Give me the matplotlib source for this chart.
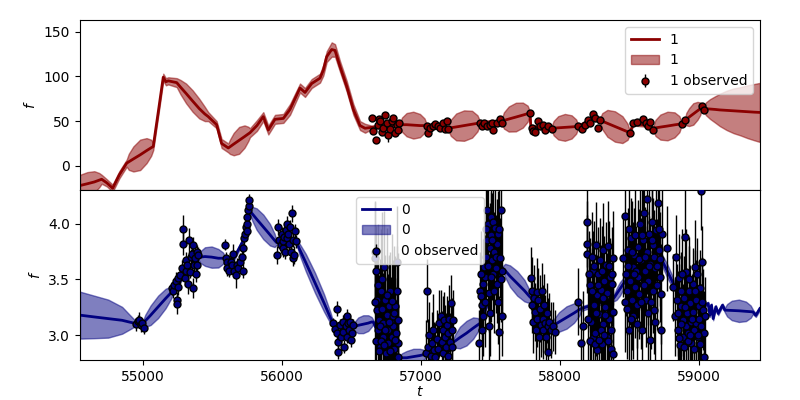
import numpy as np
import matplotlib
matplotlib.use("Agg")
import matplotlib.pyplot as plt

# ---- band 1 (top panel): fitted mean and half-width at knots ----
fit1_t = [54547, 54600, 54650, 54685, 54703, 54740, 54782, 54830, 54883,
          54898, 54931, 54980, 55026, 55059,
          55074, 55110, 55146, 55165, 55182,
          55243, 55270, 55310, 55357, 55405, 55445, 55470,
          55530, 55566, 55614,
          55626, 55653, 55692, 55731, 55758,
          55770, 55820, 55866, 55902, 55950, 56010, 56058, 56130, 56166, 56214,
          56274, 56298, 56322, 56358, 56382, 56418, 56466, 56514, 56562, 56598,
          56645, 56700, 56760, 56849,
          56864, 56897, 56945, 56993, 57026,
          57041, 57120, 57197,
          57215, 57254, 57311, 57368, 57407,
          57425, 57500, 57581,
          57597, 57632, 57683, 57733, 57768,
          57784, 57791, 57860, 57940,
          57955, 57988, 58036, 58084, 58117,
          58132, 58180, 58228, 58288,
          58305, 58342, 58396, 58450, 58487,
          58504, 58528, 58600, 58672,
          58688, 58723, 58774, 58825, 58860,
          58876, 58900,
          58910, 58930, 58960, 58990, 59010,
          59020, 59036,
          59050, 59080, 59120, 59150, 59200, 59250, 59300, 59350, 59400, 59439]
fit1_mean = [-22, -20, -18, -16, -15, -19, -25, -10, 3,
             4.5, 7.7, 12.3, 17, 20.2,
             21.6, 60, 99, 94, 95,
             93, 88, 81, 72.5, 64, 58, 55,
             46, 25, 20,
             21.3, 24.3, 28.5, 32.7, 35.7,
             37, 45, 55, 40, 52, 53, 63, 87, 82, 92,
             98, 107, 122, 130, 129, 111, 89, 63, 45, 42,
             43, 44, 45, 46,
             46, 46, 45.5, 45, 45,
             45, 44, 42,
             42.5, 43.5, 45, 46.5, 47.5,
             48, 49, 50,
             50.7, 52.3, 54.5, 56.7, 58.3,
             59, 44, 43, 42,
             42.1, 42.5, 43, 43.5, 43.9,
             44, 48, 53, 51,
             49.9, 47.5, 44, 40.5, 38.1,
             37, 47, 46, 42,
             42.4, 43.3, 44.5, 45.8, 46.6,
             47, 51,
             52.2, 54.5, 58, 61.5, 63.8,
             65, 64,
             63.8, 63.5, 63, 62.5, 62, 61.5, 61, 60.5, 60, 59.7]
fit1_err = [12, 13, 12, 8, 5, 4, 4, 4, 4,
            9, 14, 17, 14, 9,
            4, 4, 4, 4, 4,
            5, 8, 11, 12, 11, 8, 5,
            4, 5, 5,
            8, 12.5, 15, 12.5, 8,
            5, 6, 5, 5, 5, 5, 6, 5, 5, 5,
            5, 6, 6, 8, 7, 6, 6, 6, 5, 5,
            2, 2, 2, 2,
            8, 13, 15, 13, 8,
            2, 2, 2,
            9, 15, 17, 15, 9,
            2, 2, 2,
            9, 14, 16, 14, 9,
            2, 2, 2, 2,
            8, 13, 15, 13, 8,
            2, 2, 2, 2,
            9, 15, 17, 15, 9,
            2, 2, 2, 2,
            9, 14, 16, 14, 9,
            2, 2,
            7, 10, 12, 10, 7,
            2, 2,
            7, 11, 15, 18, 22, 25, 27, 29.5, 31.5, 33]

# ---- band 1 observations ----
obs1_t = [56645, 56657, 56674, 56693, 56700, 56705, 56720, 56729, 56741, 56753,
          56765, 56780, 56789, 56800, 56813, 56825, 56835, 56844,
          57041, 57053, 57065, 57089, 57101, 57125, 57137, 57161, 57173, 57185, 57197,
          57425, 57437, 57454, 57473, 57497, 57509, 57521, 57545, 57569, 57581,
          57784, 57796, 57808, 57820, 57844, 57856, 57880, 57892, 57916, 57940,
          58132, 58156, 58180, 58204, 58216, 58235, 58252, 58276, 58288,
          58504, 58528, 58557, 58595, 58619, 58635, 58652, 58667,
          58876, 58900, 59020, 59036]
obs1_f = [53.4, 38.4, 29.0, 46.0, 52.0, 49.6, 38.0, 42.0, 57.0, 47.8,
          34.7, 41.0, 49.6, 53.0, 36.6, 46.0, 40.0, 47.8,
          44.8, 36.6, 42.0, 44.8, 46.7, 44.0, 42.0, 47.8, 41.0, 50.0, 41.4,
          47.8, 44.0, 47.8, 44.0, 46.0, 47.8, 40.0, 47.8, 52.0, 47.8,
          59.0, 42.0, 38.4, 37.7, 50.0, 44.0, 46.0, 39.6, 44.0, 41.4,
          44.0, 41.0, 46.0, 51.5, 47.8, 58.0, 53.4, 42.0, 50.7,
          36.6, 47.8, 48.5, 52.0, 47.8, 44.0, 49.0, 40.0,
          46.7, 51.5, 66.4, 62.7]
obs1_err = [3, 3, 3, 2, 3, 2, 3, 2, 3, 2,
            8, 3, 2, 3, 3, 2, 3, 2,
            2, 3, 2, 2, 3, 2, 2, 3, 2, 3, 2,
            2, 3, 2, 2, 3, 2, 3, 2, 3, 2,
            3, 2, 3, 2, 3, 2, 2, 3, 2, 2,
            2, 3, 2, 3, 2, 3, 2, 3, 2,
            3, 2, 3, 2, 3, 2, 3, 2,
            2, 3, 3, 2]

# ---- band 0 (bottom panel): fitted mean and half-width at knots ----
fit0_t = [54547, 54650, 54750, 54850, 54900, 54935, 54955,
          55000,
          55017, 55055, 55109, 55163, 55201,
          55218, 55300, 55398,
          55413, 55446, 55494, 55542, 55575,
          55590, 55650, 55722, 55770,
          55785, 55818, 55866, 55914, 55947,
          55962, 56030, 56106,
          56127, 56172, 56238, 56303, 56348,
          56369, 56440, 56513,
          56525, 56549, 56585, 56621, 56645,
          56657, 56700, 56760, 56849,
          56864, 56897, 56945, 56993, 57026,
          57041, 57130, 57232,
          57247, 57280, 57328, 57376, 57410,
          57425, 57500, 57590,
          57606, 57641, 57693, 57745, 57780,
          57796, 57870, 57940,
          57957, 57994, 58048, 58102, 58139,
          58156, 58280, 58384,
          58392, 58408, 58432, 58456, 58472,
          58480, 58600, 58707,
          58718, 58740, 58773, 58806, 58828,
          58839, 58940, 59043,
          59067, 59079, 59091, 59103, 59122, 59139, 59151, 59170,
          59187,
          59203, 59237, 59288, 59339, 59373,
          59389, 59410, 59439]
fit0_mean = [3.181, 3.165, 3.15, 3.135, 3.12, 3.11, 3.107,
             3.11,
             3.13, 3.18, 3.255, 3.33, 3.38,
             3.40, 3.55, 3.70,
             3.70, 3.705, 3.70, 3.69, 3.69,
             3.69, 3.68, 3.85, 4.11,
             4.09, 4.04, 3.97, 3.90, 3.85,
             3.83, 3.85, 3.83,
             3.77, 3.65, 3.47, 3.29, 3.16,
             3.105, 3.09, 3.08,
             3.08, 3.09, 3.10, 3.11, 3.12,
             3.12, 3.00, 2.90, 2.80,
             2.80, 2.80, 2.81, 2.82, 2.83,
             2.83, 2.88, 2.94,
             2.95, 2.98, 3.02, 3.065, 3.095,
             3.107, 3.35, 3.60,
             3.58, 3.53, 3.465, 3.40, 3.35,
             3.33, 3.20, 3.08,
             3.09, 3.12, 3.16, 3.20, 3.23,
             3.24, 3.29, 3.33,
             3.34, 3.37, 3.415, 3.46, 3.485,
             3.50, 3.62, 3.75,
             3.72, 3.66, 3.575, 3.49, 3.43,
             3.40, 3.33, 3.27,
             3.285, 3.18, 3.27, 3.15, 3.255, 3.196, 3.226, 3.27,
             3.226,
             3.225, 3.223, 3.22, 3.215, 3.212,
             3.21, 3.18, 3.24]
fit0_err = [0.21, 0.19, 0.17, 0.12, 0.07, 0.035, 0.02,
            0.02,
            0.055, 0.087, 0.10, 0.087, 0.055,
            0.02, 0.02, 0.02,
            0.052, 0.083, 0.095, 0.083, 0.052,
            0.02, 0.02, 0.02, 0.02,
            0.06, 0.096, 0.11, 0.096, 0.06,
            0.02, 0.02, 0.02,
            0.05, 0.078, 0.09, 0.078, 0.05,
            0.02, 0.02, 0.02,
            0.044, 0.07, 0.08, 0.07, 0.044,
            0.02, 0.02, 0.02, 0.02,
            0.04, 0.06, 0.07, 0.06, 0.04,
            0.02, 0.02, 0.02,
            0.06, 0.096, 0.11, 0.096, 0.06,
            0.02, 0.02, 0.02,
            0.06, 0.096, 0.11, 0.096, 0.06,
            0.02, 0.02, 0.02,
            0.055, 0.087, 0.10, 0.087, 0.055,
            0.02, 0.02, 0.02,
            0.033, 0.052, 0.06, 0.052, 0.033,
            0.02, 0.02, 0.02,
            0.033, 0.052, 0.06, 0.052, 0.033,
            0.02, 0.02, 0.015,
            0.015, 0.015, 0.015, 0.015, 0.015, 0.015, 0.015, 0.015,
            0.02,
            0.055, 0.087, 0.10, 0.087, 0.055,
            0.02, 0.015, 0.015]

# ---- band 0 observations (one block per group of visits) ----
obs0_t = [
    54950, 54963, 54975, 54985, 54995, 55008,
    55206, 55218, 55226, 55238, 55243, 55247, 55250, 55254, 55266, 55278,
    55286, 55290, 55302, 55310, 55312, 55319, 55326, 55334, 55338, 55343,
    55350, 55358, 55362, 55367, 55374, 55382, 55386, 55391, 55398,
    55590, 55595, 55602, 55607, 55621, 55631, 55638, 55650, 55657, 55669,
    55674, 55686, 55698, 55710, 55717, 55722, 55729, 55734, 55739, 55746,
    55746, 55751, 55756, 55760, 55765,
    55967, 55974, 55981, 55991, 55998, 56005, 56010, 56017, 56022, 56029,
    56034, 56039, 56046, 56053, 56058, 56062, 56070, 56077, 56082, 56089,
    56094, 56101,
    56365, 56381, 56393, 56398, 56402, 56405, 56417, 56425, 56437, 56441,
    56449, 56458, 56465, 56470, 56477, 56485, 56489, 56497, 56501, 56509,
    56669, 56672, 56676, 56681, 56686, 56693, 56700, 56705, 56710, 56717,
    56724, 56729, 56736, 56741, 56748, 56753, 56760, 56765, 56772, 56777,
    56784, 56789, 56796, 56801, 56808, 56813, 56820, 56825, 56828, 56832,
    56837,
    56667, 56679, 56690, 56697, 56708, 56714, 56721, 56733,
    56745, 56757, 56769, 56781, 56793, 56805, 56817, 56834,
    57036, 57041, 57053, 57060, 57070, 57077, 57089, 57094, 57101, 57113,
    57125, 57132, 57142, 57149, 57156, 57161, 57168, 57173, 57180, 57185,
    57192, 57197, 57204, 57209, 57216, 57221, 57226, 57228,
    57420, 57425, 57429, 57437, 57444, 57449, 57453, 57461, 57468, 57473,
    57477, 57485, 57489, 57492, 57497, 57501, 57506, 57511, 57516, 57521,
    57525, 57533, 57540, 57545, 57549, 57557, 57561, 57569, 57573, 57581,
    57584,
    57432, 57441, 57458, 57465, 57480, 57495, 57503,
    57514, 57528, 57537, 57553, 57565, 57577,
    57789, 57796, 57803, 57808, 57813, 57820, 57827, 57832, 57837, 57844,
    57851, 57856, 57863, 57868, 57875, 57880, 57887, 57892, 57899, 57904,
    57911, 57916, 57923, 57933, 57947, 57964,
    58132, 58151, 58168, 58192, 58192, 58197, 58216, 58223, 58228, 58235,
    58240, 58245, 58252, 58259, 58264, 58269, 58276, 58283, 58288, 58293,
    58300, 58307, 58312, 58317, 58324, 58331, 58336, 58341, 58348, 58355,
    58360, 58365, 58372, 58379, 58384, 58384,
    58205, 58212, 58219, 58231, 58248, 58256, 58262, 58272, 58280,
    58296, 58303, 58310, 58321, 58328, 58345, 58352, 58369, 58376,
    58456, 58468, 58475, 58480, 58485, 58492, 58499, 58504, 58509, 58516,
    58523, 58528, 58535, 58540, 58547, 58552, 58559, 58564, 58571, 58576,
    58581, 58588, 58595, 58600, 58605, 58612, 58619, 58624, 58628, 58636,
    58643, 58648, 58652, 58660, 58667, 58672, 58676, 58684, 58691, 58696,
    58708, 58715, 58720, 58727, 58727, 58732, 58768,
    58470, 58488, 58495, 58512, 58519, 58532, 58544, 58556, 58568, 58585, 58592,
    58608, 58616, 58632, 58640, 58656, 58664, 58680, 58688, 58700, 58712, 58724,
    58811, 58827, 58839, 58844, 58851, 58859, 58863, 58868, 58875, 58883,
    58887, 58895, 58899, 58907, 58911, 58916, 58923, 58931, 58935, 58943,
    58947, 58955, 58959, 58967, 58971, 58979, 58983, 58988, 58995, 59003,
    59007, 59015, 59019, 59026, 59031, 59036, 59039, 59043,
    58848, 58856, 58871, 58880, 58891, 58903, 58919, 58927,
    58939, 58951, 58963, 58975, 58991, 58999, 59011, 59023,
]
obs0_f = [
    3.10, 3.13, 3.14, 3.09, 3.11, 3.07,
    3.42, 3.40, 3.45, 3.49, 3.32, 3.28, 3.51, 3.43, 3.54, 3.60,
    3.95, 3.82, 3.51, 3.58, 3.67, 3.63, 3.46, 3.85, 3.57, 3.70,
    3.73, 3.42, 3.81, 3.63, 3.69, 3.55, 3.75, 3.63, 3.72,
    3.81, 3.69, 3.66, 3.60, 3.58, 3.66, 3.63, 3.73, 3.58, 3.54,
    3.63, 3.60, 3.66, 3.70, 3.58, 3.78, 3.87, 3.91, 3.97, 4.00,
    3.93, 4.06, 4.12, 4.16, 4.21,
    3.72, 3.97, 3.85, 3.81, 3.91, 3.78, 3.84, 3.88, 3.75, 3.94,
    4.00, 3.87, 3.91, 3.82, 3.97, 3.75, 4.09, 3.69, 3.85, 3.72,
    3.93, 3.84,
    3.11, 3.06, 3.02, 3.24, 2.85, 2.94, 3.09, 2.99, 3.12, 3.03,
    2.90, 3.08, 3.17, 2.99, 3.11, 3.05, 3.12, 2.96, 3.02, 3.09,
    3.75, 3.69, 3.58, 3.32, 3.23, 3.05, 3.14, 2.90, 3.40, 3.24,
    2.99, 3.11, 3.61, 3.32, 2.84, 3.18, 3.05, 2.93, 3.26, 3.40,
    3.12, 2.99, 3.17, 3.08, 2.88, 3.26, 3.02, 3.40, 3.66, 2.93,
    2.81,
    3.30, 2.95, 3.45, 2.86, 3.08, 2.95, 3.50, 2.91,
    3.05, 3.36, 3.12, 2.86, 3.31, 3.20, 2.96, 3.14,
    2.84, 3.40, 2.90, 3.00, 2.82, 2.93, 3.05, 2.87, 2.81, 2.97,
    2.88, 3.11, 3.17, 2.94, 2.84, 3.05, 3.14, 2.99, 2.90, 3.09,
    2.82, 3.02, 3.15, 2.94, 3.29, 3.05, 2.90, 3.14,
    2.93, 3.40, 3.35, 3.27, 3.17, 3.46, 3.61, 3.52, 3.70, 3.85,
    4.12, 4.00, 3.38, 3.08, 3.78, 3.90, 4.06, 3.67, 4.01, 3.55,
    3.75, 3.96, 3.70, 3.46, 3.82, 3.91, 3.03, 3.69, 4.12, 3.17,
    3.58,
    3.55, 3.05, 3.30, 3.95, 3.62, 3.20, 3.52,
    3.85, 3.40, 3.60, 3.30, 3.95, 3.50,
    3.51, 3.40, 3.27, 3.12, 3.33, 3.21, 3.05, 3.39, 3.15, 3.32,
    2.99, 3.24, 3.09, 3.40, 3.15, 3.05, 3.27, 3.11, 2.99, 3.20,
    3.08, 2.85, 3.12, 3.05, 3.08, 3.03,
    3.30, 2.93, 3.08, 4.01, 3.82, 3.73, 3.45, 3.12, 3.70, 2.98,
    3.58, 3.27, 3.02, 3.81, 3.36, 2.87, 3.55, 3.19, 3.67, 3.41,
    2.92, 3.76, 3.10, 3.49, 3.25, 3.63, 2.99, 3.38, 3.80, 3.15,
    3.52, 2.88, 3.46, 3.21, 3.69, 2.83,
    3.15, 3.55, 2.95, 3.40, 3.62, 2.92, 3.20, 3.45, 2.96,
    3.05, 3.58, 3.33, 3.00, 3.18, 2.95, 3.62, 3.05, 3.55,
    3.69, 4.07, 3.55, 3.40, 3.24, 3.76, 3.05, 3.49, 3.87, 3.32,
    3.61, 3.17, 3.72, 3.43, 3.58, 3.27, 3.79, 3.52, 3.37, 4.00,
    3.67, 3.05, 3.46, 3.85, 4.09, 3.58, 3.32, 4.22, 3.75, 3.49,
    3.91, 2.96, 3.64, 4.01, 3.40, 3.81, 3.23, 3.60, 3.94, 3.45,
    4.18, 3.76, 3.52, 3.37, 3.05, 3.91, 3.78,
    3.30, 3.62, 3.95, 3.15, 3.75, 3.55, 3.90, 3.10, 3.68, 3.30, 3.90,
    3.45, 3.70, 3.20, 3.62, 3.30, 3.85, 3.70, 3.12, 3.62, 3.95, 3.68,
    3.43, 3.17, 3.70, 3.32, 3.05, 3.51, 2.91, 3.26, 3.40, 3.14,
    2.99, 3.33, 3.88, 3.08, 3.57, 3.20, 3.02, 3.40, 3.29, 3.12,
    2.93, 3.46, 3.21, 3.05, 3.61, 3.32, 3.11, 3.55, 2.99, 3.26,
    3.42, 3.08, 4.29, 3.66, 3.23, 3.02, 2.81, 3.17,
    3.20, 2.98, 3.10, 3.55, 2.90, 3.25, 2.95, 3.50,
    3.00, 3.15, 2.88, 3.40, 3.00, 3.15, 2.92, 3.30,
]
obs0_err = [
    0.06, 0.05, 0.07, 0.06, 0.05, 0.06,
    0.06, 0.07, 0.05, 0.08, 0.07, 0.09, 0.06, 0.07, 0.08, 0.07,
    0.13, 0.10, 0.07, 0.06, 0.08, 0.07, 0.09, 0.11, 0.06, 0.07,
    0.08, 0.09, 0.07, 0.06, 0.08, 0.07, 0.06, 0.08, 0.07,
    0.05, 0.06, 0.05, 0.07, 0.06, 0.08, 0.06, 0.09, 0.07, 0.12,
    0.06, 0.07, 0.08, 0.06, 0.07, 0.05, 0.06, 0.05, 0.05, 0.06,
    0.05, 0.05, 0.06, 0.05, 0.05,
    0.08, 0.07, 0.06, 0.07, 0.06, 0.08, 0.05, 0.06, 0.07, 0.06,
    0.07, 0.06, 0.05, 0.07, 0.06, 0.08, 0.08, 0.07, 0.06, 0.08,
    0.07, 0.06,
    0.05, 0.06, 0.05, 0.07, 0.06, 0.07, 0.06, 0.05, 0.06, 0.07,
    0.06, 0.05, 0.07, 0.06, 0.05, 0.06, 0.05, 0.06, 0.05, 0.06,
    0.45, 0.50, 0.40, 0.45, 0.35, 0.50, 0.40, 0.45, 0.55, 0.40,
    0.35, 0.45, 0.50, 0.40, 0.45, 0.35, 0.50, 0.40, 0.45, 0.35,
    0.40, 0.45, 0.50, 0.35, 0.40, 0.45, 0.30, 0.40, 0.50, 0.35,
    0.45,
    0.60, 0.60, 0.55, 0.60, 0.60, 0.55, 0.60, 0.60,
    0.55, 0.60, 0.60, 0.55, 0.60, 0.60, 0.55, 0.60,
    0.30, 0.28, 0.25, 0.30, 0.22, 0.28, 0.32, 0.25, 0.30, 0.26,
    0.28, 0.30, 0.24, 0.28, 0.26, 0.30, 0.25, 0.28, 0.30, 0.26,
    0.24, 0.28, 0.30, 0.26, 0.25, 0.28, 0.30, 0.27,
    0.30, 0.35, 0.32, 0.30, 0.35, 0.40, 0.35, 0.38, 0.40, 0.35,
    0.45, 0.40, 0.35, 0.30, 0.40, 0.38, 0.42, 0.35, 0.40, 0.38,
    0.35, 0.40, 0.38, 0.35, 0.40, 0.38, 0.32, 0.36, 0.42, 0.35,
    0.38,
    0.38, 0.35, 0.40, 0.42, 0.40, 0.38, 0.40,
    0.42, 0.38, 0.40, 0.38, 0.40, 0.38,
    0.28, 0.30, 0.25, 0.28, 0.30, 0.26, 0.28, 0.30, 0.25, 0.28,
    0.26, 0.30, 0.28, 0.25, 0.30, 0.26, 0.28, 0.25, 0.30, 0.27,
    0.25, 0.28, 0.26, 0.25, 0.22, 0.20,
    0.30, 0.35, 0.32, 0.40, 0.38, 0.35, 0.42, 0.36, 0.40, 0.38,
    0.35, 0.42, 0.40, 0.38, 0.36, 0.40, 0.42, 0.35, 0.38, 0.40,
    0.36, 0.42, 0.38, 0.40, 0.35, 0.38, 0.42, 0.36, 0.40, 0.38,
    0.35, 0.40, 0.38, 0.36, 0.42, 0.38,
    0.40, 0.38, 0.42, 0.38, 0.40, 0.42, 0.38, 0.40, 0.38,
    0.42, 0.40, 0.38, 0.40, 0.42, 0.38, 0.40, 0.38, 0.42,
    0.35, 0.42, 0.38, 0.40, 0.45, 0.38, 0.42, 0.40, 0.36, 0.45,
    0.40, 0.38, 0.42, 0.45, 0.40, 0.38, 0.42, 0.36, 0.40, 0.45,
    0.38, 0.42, 0.40, 0.45, 0.38, 0.40, 0.42, 0.45, 0.38, 0.40,
    0.42, 0.36, 0.40, 0.45, 0.38, 0.42, 0.40, 0.36, 0.45, 0.40,
    0.42, 0.38, 0.40, 0.45, 0.36, 0.42, 0.38,
    0.45, 0.42, 0.45, 0.42, 0.45, 0.42, 0.45, 0.42, 0.45, 0.42, 0.45,
    0.42, 0.45, 0.42, 0.45, 0.42, 0.45, 0.42, 0.45, 0.42, 0.45, 0.42,
    0.30, 0.35, 0.38, 0.32, 0.36, 0.40, 0.34, 0.38, 0.35, 0.32,
    0.36, 0.38, 0.42, 0.35, 0.38, 0.32, 0.36, 0.40, 0.34, 0.38,
    0.35, 0.32, 0.36, 0.38, 0.42, 0.35, 0.38, 0.32, 0.36, 0.40,
    0.34, 0.38, 0.35, 0.32, 0.36, 0.38, 0.40, 0.35,
    0.38, 0.36, 0.38, 0.40, 0.36, 0.38, 0.40, 0.38,
    0.36, 0.40, 0.38, 0.36, 0.40, 0.38, 0.36, 0.40,
]

t_min, t_max = 54547, 59440


def draw_band(ax, t, mean, err, obs_t, obs_f, obs_err, color, name, loc):
    t = np.array(t)
    mean = np.array(mean)
    err = np.array(err)
    ax.plot(t, mean, color=color, lw=2, label=name)
    ax.fill_between(t, mean - err, mean + err, color=color, alpha=0.5, label=name)
    ax.errorbar(obs_t, obs_f, yerr=obs_err, fmt='o', color=color, ecolor='k',
                mec='k', ms=5, elinewidth=1, label=name + ' observed', zorder=3)
    ax.set_ylabel('$f$')
    ax.legend(loc=loc)


fig, (ax1, ax2) = plt.subplots(2, 1, sharex=True, figsize=(8, 4), dpi=100)
fig.subplots_adjust(left=0.1, right=0.95, top=0.95, bottom=0.1, hspace=0)

draw_band(ax1, fit1_t, fit1_mean, fit1_err, obs1_t, obs1_f, obs1_err,
          'darkred', '1', 'upper right')
ax1.set_ylim(-27, 163)
ax1.set_yticks([0, 50, 100, 150])

draw_band(ax2, fit0_t, fit0_mean, fit0_err, obs0_t, obs0_f, obs0_err,
          'navy', '0', 'upper center')
ax2.set_ylim(2.78, 4.30)
ax2.set_yticks([3.0, 3.5, 4.0])
ax2.set_xlim(t_min, t_max)
ax2.set_xticks([55000, 56000, 57000, 58000, 59000])
ax2.set_xlabel('$t$', labelpad=1)

plt.savefig('out.png', dpi=100)
